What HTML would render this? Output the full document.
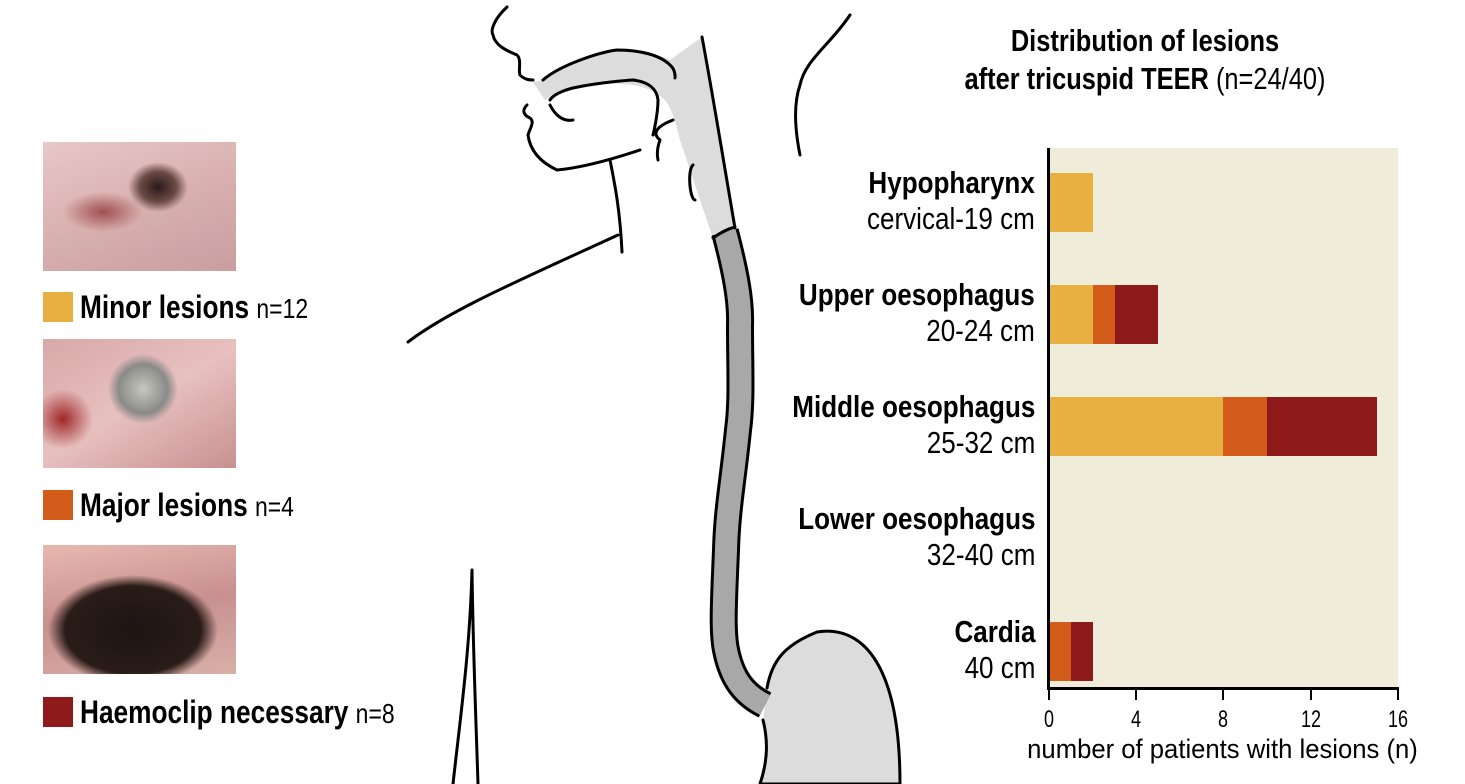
<!DOCTYPE html>
<html><head><meta charset="utf-8"><style>
body{margin:0;width:1465px;height:784px;background:#fff;position:relative;overflow:hidden;font-family:"Liberation Sans Narrow","Liberation Sans",sans-serif;}
.a{position:absolute}
.ph{position:absolute;left:43px;width:193px;height:129px}
.sq{position:absolute;left:43px;width:30px;height:30px}
.lg{position:absolute;left:80px;font-size:32px;font-weight:bold;line-height:34px;white-space:nowrap;transform:scaleX(0.82);transform-origin:left}
.lg span{font-weight:normal;font-size:28px}
.lab{position:absolute;right:430px;text-align:right;font-size:31px;line-height:36px;white-space:nowrap;transform:scaleX(0.84);transform-origin:right}
.lab b{display:block}
.bar{position:absolute;height:59px}
.tk{position:absolute;top:688px;width:2px;height:12px;background:#000}
.tl{position:absolute;top:706px;font-size:24px;width:40px;text-align:center;transform:scaleX(0.75)}
</style></head><body>
<div class="ph" style="top:142px;background:radial-gradient(ellipse 30px 25px at 115px 45px,#2a1a1a,#6a4a45 60%,transparent 100%),radial-gradient(ellipse 40px 20px at 60px 70px,#a05050,transparent),linear-gradient(160deg,#e8c8c8,#d9b0b0 50%,#c89ea0)"></div>
<div class="sq" style="top:292px;background:#e8b040"></div>
<div class="lg" style="top:290px">Minor lesions <span>n=12</span></div>
<div class="ph" style="top:339px;background:radial-gradient(ellipse 35px 35px at 100px 50px,#c8c8c0,#8a8a88 70%,transparent 100%),radial-gradient(ellipse 30px 30px at 20px 80px,#a02828,transparent),linear-gradient(150deg,#d8a8a8,#e8c0c0 50%,#c89090)"></div>
<div class="sq" style="top:490px;background:#d45c1a"></div>
<div class="lg" style="top:488px">Major lesions <span>n=4</span></div>
<div class="ph" style="top:545px;background:radial-gradient(ellipse 85px 55px at 90px 85px,#1e1412,#2a1c18 80%,transparent 100%),linear-gradient(170deg,#e8b8b0,#c89090 50%,#d8b0a8)"></div>
<div class="sq" style="top:697px;background:#8f1a1c"></div>
<div class="lg" style="top:695px">Haemoclip necessary <span>n=8</span></div>

<svg class="a" style="left:0;top:0" width="1465" height="784" viewBox="0 0 1465 784">
<g fill="none" stroke="#000" stroke-width="3" stroke-linecap="round" stroke-linejoin="round">
<path d="M767 688 C772 660 785 645 817 632 C860 625 900 660 900 784 L760 784 C768 760 768 740 763 720" fill="#dcdcdc"/>
<path d="M533 82 L543 80 C560 65 600 52 617 50 C640 50 660 55 670 60 L702 37 L735 228 L713 238 C700 200 690 170 680 140 C675 120 670 100 658 95 C640 80 600 82 573 88 C560 92 550 98 545 100 Z" fill="#dcdcdc" stroke="none"/>
<path d="M543 80 C560 65 600 52 617 50 C640 50 660 55 670 65 C676 70 675 78 675 78"/>
<path d="M550 100 C555 92 573 88 573 88 C600 82 633 80 633 80 C650 82 657 90 658 100 C658 115 653 135 653 135"/>
<path d="M550 105 C555 115 563 122 573 120"/>
<path d="M702 37 C712 90 725 170 735 228"/>
<path d="M693 165 C687 170 690 200 695 200"/>
<path d="M725 232 C735 270 741 300 740 325 C740 370 742 400 738 430 C733 480 727 510 726 550 C724 600 722 630 726 650 C732 680 745 695 765 705" stroke-width="28" stroke-linecap="butt"/>
<path d="M725 232 C735 270 741 300 740 325 C740 370 742 400 738 430 C733 480 727 510 726 550 C724 600 722 630 726 650 C732 680 745 695 765 705" stroke="#a8a8a8" stroke-width="22" stroke-linecap="butt"/>
<path d="M713 238 Q724 230 735 227"/>
<path d="M507 7 C495 18 490 30 493 35 C495 45 505 50 517 55 C522 60 518 70 520 75 C525 80 530 80 533 80"/>
<path d="M527 105 C522 110 523 115 530 118 C535 122 530 128 528 135 C530 150 540 162 557 170 C580 168 610 160 640 150"/>
<path d="M673 120 C660 125 650 132 660 140 C657 148 657 155 658 160"/>
<path d="M610 160 C615 185 620 210 622 252"/>
<path d="M618 235 C520 280 450 310 408 342"/>
<path d="M850 15 C830 45 805 60 800 85 C793 105 795 130 800 155"/>
<path d="M472 570 C470 650 460 720 453 784 M472 570 C473 650 476 720 478 784"/>
</g>
</svg>

<div class="a" style="left:880px;top:22px;width:530px;text-align:center;font-size:31px;line-height:38px;transform:scaleX(0.82)"><b>Distribution of lesions</b><br><b>after tricuspid TEER</b> (n=24/40)</div>
<div class="a" style="left:1049px;top:148px;width:349px;height:540px;background:#efecd9"></div>
<div class="a" style="left:1047px;top:148px;width:3px;height:542px;background:#000"></div>
<div class="a" style="left:1047px;top:687px;width:352px;height:3px;background:#000"></div>
<div class="tk" style="left:1048px"></div><div class="tk" style="left:1135px"></div><div class="tk" style="left:1222px"></div><div class="tk" style="left:1310px"></div><div class="tk" style="left:1397px"></div>
<div class="tl" style="left:1029px">0</div><div class="tl" style="left:1116px">4</div><div class="tl" style="left:1203px">8</div><div class="tl" style="left:1291px">12</div><div class="tl" style="left:1378px">16</div>
<div class="a" style="left:990px;top:734px;width:465px;text-align:center;font-size:27px;transform:scaleX(0.95)">number of patients with lesions (n)</div>

<div class="bar" style="left:1050px;top:173px;width:43px;background:#e8b040"></div>
<div class="bar" style="left:1050px;top:285px;width:43px;background:#e8b040"></div>
<div class="bar" style="left:1093px;top:285px;width:22px;background:#d45c1a"></div>
<div class="bar" style="left:1115px;top:285px;width:43px;background:#8f1a1c"></div>
<div class="bar" style="left:1050px;top:397px;width:173px;background:#e8b040"></div>
<div class="bar" style="left:1223px;top:397px;width:44px;background:#d45c1a"></div>
<div class="bar" style="left:1267px;top:397px;width:110px;background:#8f1a1c"></div>
<div class="bar" style="left:1050px;top:622px;width:21px;background:#d45c1a"></div>
<div class="bar" style="left:1071px;top:622px;width:22px;background:#8f1a1c"></div>

<div class="lab" style="top:165px"><b>Hypopharynx</b>cervical-19 cm</div>
<div class="lab" style="top:277px"><b>Upper oesophagus</b>20-24 cm</div>
<div class="lab" style="top:389px"><b>Middle oesophagus</b>25-32 cm</div>
<div class="lab" style="top:501px"><b>Lower oesophagus</b>32-40 cm</div>
<div class="lab" style="top:614px"><b>Cardia</b>40 cm</div>
</body></html>
